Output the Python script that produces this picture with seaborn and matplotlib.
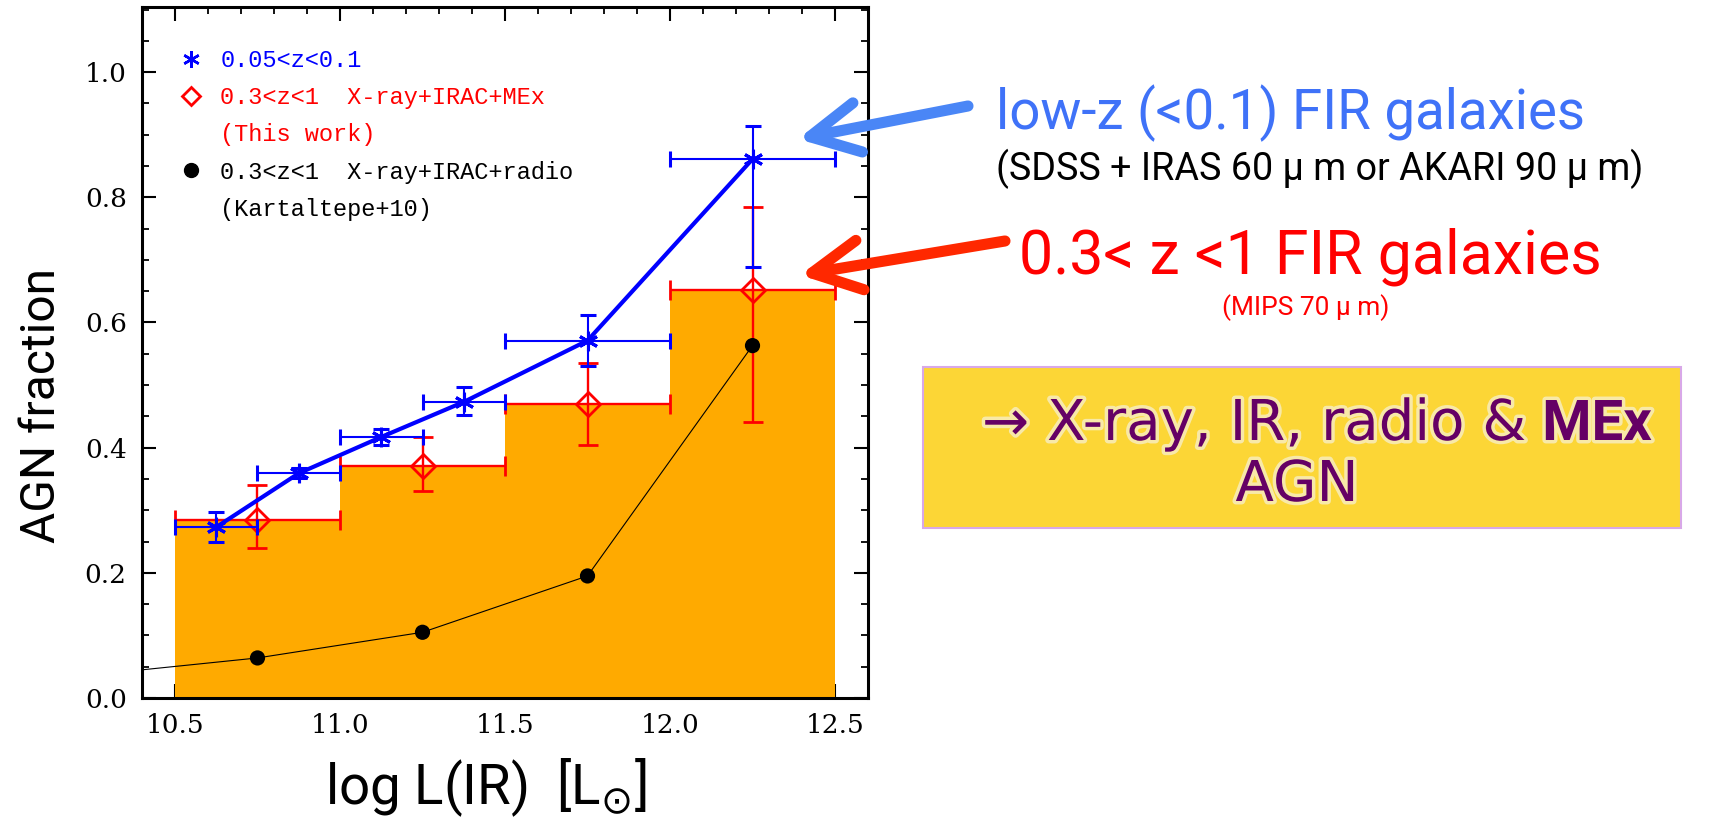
import matplotlib
matplotlib.use('Agg')
import matplotlib.pyplot as plt
import seaborn as sns
from matplotlib.lines import Line2D
from matplotlib.patches import FancyArrowPatch, Rectangle
from matplotlib.ticker import MultipleLocator
from matplotlib import patheffects, font_manager

# Valores lidos da figura
# amostra low-z (0.05<z<0.1)
lowz_x = [10.625, 10.875, 11.125, 11.375, 11.75, 12.25]
lowz_y = [0.273, 0.359, 0.417, 0.473, 0.571, 0.861]
lowz_xerr = [0.125, 0.125, 0.125, 0.125, 0.25, 0.25]
lowz_err_lo = [0.024, 0.008, 0.012, 0.021, 0.040, 0.172]
lowz_err_hi = [0.024, 0.008, 0.012, 0.024, 0.041, 0.053]

# 0.3<z<1 X-ray+IRAC+MEx (This work)
mex_x = [10.75, 11.25, 11.75, 12.25]
mex_y = [0.284, 0.371, 0.470, 0.652]
mex_xerr = [0.25, 0.25, 0.25, 0.25]
mex_err_lo = [0.044, 0.040, 0.066, 0.211]
mex_err_hi = [0.056, 0.046, 0.065, 0.133]

# 0.3<z<1 X-ray+IRAC+radio (Kartaltepe+10)
kart_x = [10.75, 11.25, 11.75, 12.25]
kart_y = [0.064, 0.105, 0.195, 0.563]
kart_curve_x = [10.4, 10.75, 11.25, 11.75, 12.25]
kart_curve_y = [0.045, 0.064, 0.105, 0.195, 0.563]

x_ticks = [10.5, 11.0, 11.5, 12.0, 12.5]
y_ticks = [0.0, 0.2, 0.4, 0.6, 0.8, 1.0]

legend_labels = ['0.05<z<0.1', '0.3<z<1  X-ray+IRAC+MEx', '(This work)',
                 '0.3<z<1  X-ray+IRAC+radio', '(Kartaltepe+10)']
legend_colors = ['blue', 'red', 'red', 'black', 'black']

sns.set_theme(style='ticks')
plt.rcParams['font.family'] = ['DejaVu Serif']
plt.rcParams['mathtext.fontset'] = 'dejavusans'

installed = {f.name for f in font_manager.fontManager.ttflist}
if 'Liberation Sans Narrow' in installed:
    narrow, k = 'Liberation Sans Narrow', 1.0
else:
    narrow, k = 'Roboto', 0.82

W, H = 1717, 827
fig = plt.figure(figsize=(W / 100, H / 100), dpi=100)
ax = fig.add_axes([142 / W, 1 - 698 / H, 726 / W, 691 / H])


def px(x, y):
    return (x / W, 1 - y / H)


# histograma laranja
ax.bar(mex_x, mex_y, width=0.5, color='#FFAA00', linewidth=0, zorder=1)

ax.errorbar(mex_x, mex_y, xerr=mex_xerr, yerr=[mex_err_lo, mex_err_hi],
            ls='none', marker='D', ms=12, mfc='none', mec='red', mew=2,
            ecolor='red', elinewidth=1.7, capsize=7, capthick=1.7, zorder=3)

sns.lineplot(x=kart_curve_x, y=kart_curve_y, ax=ax, color='black', lw=0.8, zorder=4)
sns.scatterplot(x=kart_x, y=kart_y, ax=ax, color='black', s=120, edgecolor='none', zorder=5)

sns.lineplot(x=lowz_x, y=lowz_y, ax=ax, color='blue', lw=3, zorder=6)
ax.errorbar(lowz_x, lowz_y, xerr=lowz_xerr, yerr=[lowz_err_lo, lowz_err_hi],
            ls='none', marker=(6, 2, 0), ms=14, mew=2.2, color='blue',
            elinewidth=1.5, capsize=6, capthick=1.5, zorder=7)

ax.set_xlim(10.4, 12.6)
ax.set_ylim(0, 1.104)
ax.set_xticks(x_ticks)
ax.set_xticklabels([f'{v:.1f}' for v in x_ticks])
ax.set_yticks(y_ticks)
ax.set_yticklabels([f'{v:.1f}' for v in y_ticks])
ax.xaxis.set_minor_locator(MultipleLocator(0.1))
ax.yaxis.set_minor_locator(MultipleLocator(0.05))
ax.tick_params(which='major', direction='in', length=10, width=1.5, top=True, right=True,
               labelsize=19, pad=11, color='black', labelcolor='black')
ax.tick_params(which='minor', direction='in', length=5, width=1.3, top=True, right=True, color='black')
for s in ax.spines.values():
    s.set_linewidth(2.2)
    s.set_color('black')

ax.set_ylabel('AGN fraction', family=narrow, fontsize=42 * k, color='black')
ax.yaxis.set_label_coords(-0.106, 0.424)
ax.set_xlabel(r'log L(IR)  [L$_{\odot}$]', family=narrow, fontsize=48 * k, color='black')
ax.xaxis.set_label_coords(0.473, -0.085)

# legenda no estilo IDL
handles = [
    Line2D([], [], ls='none', marker=(6, 2, 0), color='blue', ms=12, mew=1.8),
    Line2D([], [], ls='none', marker='D', mfc='none', mec='red', ms=9, mew=2),
    Line2D([], [], ls='none'),
    Line2D([], [], ls='none', marker='o', color='black', ms=10),
    Line2D([], [], ls='none'),
]
ax.legend(handles, legend_labels, loc='upper left', bbox_to_anchor=(0.051, 0.939),
          frameon=False, prop={'family': 'Liberation Mono', 'size': 17},
          handlelength=1.0, handletextpad=0.75, labelspacing=0.6,
          borderpad=0, borderaxespad=0, labelcolor=legend_colors)

# anotacoes do lado direito
fig.text(*px(1290, 129), 'low-z (<0.1) FIR galaxies', ha='center', va='baseline',
         color='#3F72F8', fontsize=48 * k, family=narrow)
fig.text(*px(1320, 180), '(SDSS + IRAS 60 μ m or AKARI 90 μ m)', ha='center', va='baseline',
         color='black', fontsize=33 * k, family=narrow)
fig.text(*px(1310, 274), '0.3< z <1 FIR galaxies', ha='center', va='baseline',
         color='#FF0000', fontsize=53.5 * k, family=narrow)
fig.text(*px(1306, 315), '(MIPS 70 μ m)', ha='center', va='baseline',
         color='#FF0000', fontsize=23 * k, family=narrow)

arrow_blue = FancyArrowPatch(px(968, 106), px(798, 139), transform=fig.transFigure,
                             arrowstyle='->,head_length=3.5,head_width=1.8', mutation_scale=10,
                             lw=8, color='#4A86F6', capstyle='round', joinstyle='round',
                             shrinkA=0, shrinkB=0)
arrow_red = FancyArrowPatch(px(1005, 241), px(800, 275), transform=fig.transFigure,
                            arrowstyle='->,head_length=3.5,head_width=1.8', mutation_scale=10,
                            lw=8, color='#FF2800', capstyle='round', joinstyle='round',
                            shrinkA=0, shrinkB=0)
fig.add_artist(arrow_blue)
fig.add_artist(arrow_red)

box = Rectangle(px(923, 528), (1681 - 923) / W, (528 - 367) / H, transform=fig.transFigure,
                facecolor='#FCD636', edgecolor='#D8A8E8', lw=1.5)
fig.add_artist(box)

glow = [patheffects.withStroke(linewidth=5, foreground='#F8E9A8')]
t1 = fig.text(*px(982, 440), '→ X-ray, IR, radio &', ha='left', va='baseline',
              color='#650065', fontsize=40.5, family='DejaVu Sans', path_effects=glow)
bb = t1.get_window_extent(fig.canvas.get_renderer())
fig.text((bb.x1 + 16) / fig.bbox.width, px(0, 440)[1], 'MEx', ha='left', va='baseline',
         color='#650065', fontsize=40.5, family='Roboto', fontweight='bold', path_effects=glow)
fig.text(*px(1297, 501), 'AGN', ha='center', va='baseline',
         color='#650065', fontsize=40.5, family='DejaVu Sans', path_effects=glow)

fig.savefig('out.png', dpi=100)
